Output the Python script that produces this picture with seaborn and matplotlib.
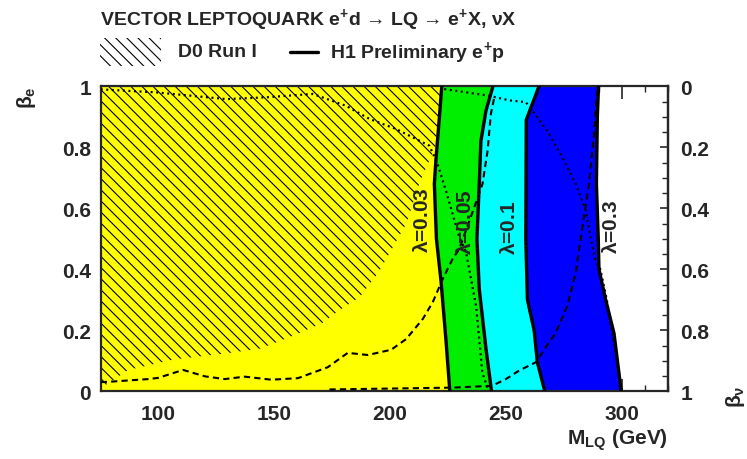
import numpy as np
import pandas as pd
import seaborn as sns
import matplotlib
matplotlib.use("Agg")
import matplotlib.pyplot as plt
from matplotlib.patches import Rectangle
from matplotlib.lines import Line2D
from matplotlib.ticker import MultipleLocator

# ---------------- data ----------------
# H1 exclusion contours: M_LQ (GeV) as a function of beta_e
beta_l003 = [0.0, 0.17, 0.36, 0.50, 0.68, 0.76, 0.90, 1.0]
m_l003 = [225.8, 224.1, 222.0, 220.0, 219.1, 219.8, 221.3, 222.3]
beta_l005 = [0.0, 0.14, 0.335, 0.50, 0.68, 0.82, 0.92, 1.0]
m_l005 = [243.8, 241.4, 238.5, 237.5, 238.5, 239.2, 241.4, 244.4]
beta_l01 = [0.0, 0.095, 0.20, 0.30, 0.50, 0.89, 1.0]
m_l01 = [266.8, 263.6, 262.2, 259.3, 258.6, 258.8, 264.3]
beta_l03 = [0.0, 0.19, 0.30, 0.40, 0.50, 0.68, 0.90, 1.0]
m_l03 = [299.8, 296.7, 293.1, 290.2, 289.9, 289.1, 289.5, 290.0]

# D0 Run I excluded region boundary (hatched)
beta_d0 = [0.0, 0.02, 0.07, 0.105, 0.125, 0.14, 0.185, 0.225, 0.26, 0.31, 0.39, 0.47, 0.55, 0.69, 0.80, 0.90, 1.0]
m_d0 = [75, 77, 87, 107, 130, 144, 159, 171, 177, 187, 195, 201, 207, 213, 219.5, 221, 222]

# dashed curves
m_dash1 = [75, 78.2, 95.5, 99.8, 110.6, 120.0, 128.6, 137.2, 148.7, 160.2, 173.1, 181.7, 190.3, 200.4,
           206.9, 214.1, 218.4, 222.7, 227.0, 229.9, 236.1, 239.9, 242.1, 243.5, 245.0]
beta_dash1 = [0.03, 0.031, 0.040, 0.044, 0.070, 0.049, 0.040, 0.048, 0.038, 0.043, 0.079, 0.126, 0.119, 0.136,
              0.171, 0.237, 0.292, 0.368, 0.434, 0.467, 0.598, 0.680, 0.789, 0.909, 0.964]
m_dash2 = [173.8, 226.9, 244.1, 250.0, 255.7, 262.9, 265.8, 271.6, 276.6, 280.2, 282.3, 283.7, 285.9, 288.1, 289.4]
beta_dash2 = [0.006, 0.012, 0.018, 0.040, 0.068, 0.095, 0.128, 0.193, 0.281, 0.390, 0.499, 0.571, 0.680, 0.844, 0.985]

# dotted curves
m_dot1 = [75, 99.1, 129.3, 146.6, 166.6, 181.0, 191.1, 202.6, 217.0, 220.5, 224.1, 229.9, 232.8, 237.1, 238.5, 239.8, 242.5]
beta_dot1 = [0.99, 0.980, 0.958, 0.964, 0.975, 0.936, 0.893, 0.860, 0.805, 0.745, 0.658, 0.505, 0.456, 0.281, 0.171, 0.063, 0.0]
m_dot2 = [223.4, 242.8, 251.4, 258.6, 261.5, 268.7, 274.4, 280.2, 284.5, 286.6, 288.6, 290.8, 293.6, 297.6, 300.2]
beta_dot2 = [0.991, 0.969, 0.954, 0.948, 0.920, 0.844, 0.767, 0.680, 0.592, 0.505, 0.43, 0.40, 0.30, 0.117, 0.0]

lambda_labels = ["0.03", "0.05", "0.1", "0.3"]
label_m = [213.8, 232.5, 251.5, 295.7]
label_beta = [0.563, 0.557, 0.539, 0.543]

x_ticks = [100, 150, 200, 250, 300]
y_ticks = [0, 0.2, 0.4, 0.6, 0.8, 1]

# ---------------- style ----------------
sns.set_theme(style="ticks")
plt.rcParams["font.family"] = ["Liberation Sans", "DejaVu Sans"]
plt.rcParams["font.weight"] = "bold"
plt.rcParams["mathtext.fontset"] = "custom"
plt.rcParams["mathtext.rm"] = "Liberation Sans"
plt.rcParams["mathtext.bf"] = "Liberation Sans:bold"
plt.rcParams["mathtext.it"] = "Liberation Sans:italic"
plt.rcParams["hatch.linewidth"] = 0.8
plt.rcParams["hatch.color"] = "black"

fig = plt.figure(figsize=(7.47, 4.60), dpi=100)
ax = fig.add_axes([0.1348, 0.1472, 0.7594, 0.663])

# filled bands
ax.fill([75] + m_l003 + [75], [0.0] + beta_l003 + [1.0], color="#ffff00", lw=0, zorder=1)
ax.fill(m_l003 + m_l005[::-1], beta_l003 + beta_l005[::-1], color="#00ee00", lw=0, zorder=1)
ax.fill(m_l005 + m_l01[::-1], beta_l005 + beta_l01[::-1], color="#00ffff", lw=0, zorder=1)
ax.fill(m_l01 + m_l03[::-1], beta_l01 + beta_l03[::-1], color="#0000ff", lw=0, zorder=1)

# D0 hatched region
ax.fill(m_d0 + [75], beta_d0 + [1.0], facecolor="none", edgecolor="black", hatch="\\\\\\", lw=0, zorder=2)

# dashed and dotted curves
for mm, bb in [(m_dash1, beta_dash1), (m_dash2, beta_dash2)]:
    sns.lineplot(x=mm, y=bb, sort=False, estimator=None, color="black", lw=1.5,
                 linestyle=(0, (3, 2)), ax=ax, zorder=3)
for mm, bb in [(m_dot1, beta_dot1), (m_dot2, beta_dot2)]:
    sns.lineplot(x=mm, y=bb, sort=False, estimator=None, color="black", lw=1.6,
                 linestyle=(0, (0.9, 1.6)), ax=ax, zorder=3)

# H1 solid contours
for mm, bb in [(m_l003, beta_l003), (m_l005, beta_l005), (m_l01, beta_l01), (m_l03, beta_l03)]:
    sns.lineplot(x=mm, y=bb, sort=False, estimator=None, color="black", lw=2.4, ax=ax, zorder=4)

# lambda labels
for lab, xm, yb in zip(lambda_labels, label_m, label_beta):
    ax.text(xm, yb, r"$\mathrm{\lambda}$=" + lab, rotation=90, ha="center", va="center",
            fontsize=15, fontweight="bold", zorder=5)

# axes
ax.set_xlim(75, 320)
ax.set_ylim(0, 1)
ax.set_xticks(x_ticks)
ax.set_xticklabels([str(t) for t in x_ticks])
ax.set_yticks(y_ticks)
ax.set_yticklabels(["0", "0.2", "0.4", "0.6", "0.8", "1"])
ax.xaxis.set_minor_locator(MultipleLocator(10))
ax.yaxis.set_minor_locator(MultipleLocator(0.05))
ax.tick_params(axis="x", which="major", direction="in", length=9, width=1.2, top=True,
               labelsize=15, pad=9)
ax.tick_params(axis="x", which="minor", direction="in", length=4, width=1.0, top=True)
ax.tick_params(axis="y", which="major", direction="in", length=6, width=1.2, right=False,
               labelsize=15, pad=7)
ax.tick_params(axis="y", which="minor", direction="in", length=4, width=1.0, right=False)
for lab in ax.get_xticklabels() + ax.get_yticklabels():
    lab.set_fontweight("bold")
for s in ax.spines.values():
    s.set_linewidth(1.6)
    s.set_visible(True)
ax.set_xlabel("")
ax.set_ylabel("")

sec = ax.secondary_yaxis("right", functions=(lambda y: 1 - y, lambda y: 1 - y))
sec.set_yticks(y_ticks)
sec.set_yticklabels(["0", "0.2", "0.4", "0.6", "0.8", "1"])
sec.yaxis.set_minor_locator(MultipleLocator(0.05))
sec.tick_params(which="major", direction="in", length=6, width=1.2, labelsize=15, pad=9)
sec.tick_params(which="minor", direction="in", length=4, width=1.0)
for lab in sec.get_yticklabels():
    lab.set_fontweight("bold")
sec.spines["right"].set_linewidth(1.6)

# axis titles
fig.text(0.894, 0.043, r"M$_{\mathbf{LQ}}$ (GeV)", ha="right", va="center", fontsize=15, fontweight="bold")
fig.text(0.036, 0.787, r"$\mathrm{\beta}_{\mathbf{e}}$", rotation=90, ha="center", va="center", fontsize=15)
fig.text(0.984, 0.137, r"$\mathrm{\beta}_{\mathrm{\nu}}$", rotation=90, ha="center", va="center", fontsize=15)

# header
fig.text(0.134, 0.957, "VECTOR LEPTOQUARK e$^{\\mathbf{+}}$d \u2192 LQ \u2192 e$^{\\mathbf{+}}$X, \u03bdX",
         ha="left", va="center", fontsize=14, fontweight="bold")
fig.add_artist(Rectangle((0.134, 0.855), 0.082, 0.06, transform=fig.transFigure,
                         facecolor="none", edgecolor="black", hatch="\\\\\\", lw=0))
fig.text(0.238, 0.885, "D0 Run I", ha="left", va="center", fontsize=14, fontweight="bold")
fig.add_artist(Line2D([0.388, 0.426], [0.885, 0.885], transform=fig.transFigure, color="black", lw=2.4))
fig.text(0.442, 0.885, "H1 Preliminary e$^{\\mathbf{+}}$p", ha="left", va="center", fontsize=14, fontweight="bold")

fig.savefig("out.png", dpi=100)
